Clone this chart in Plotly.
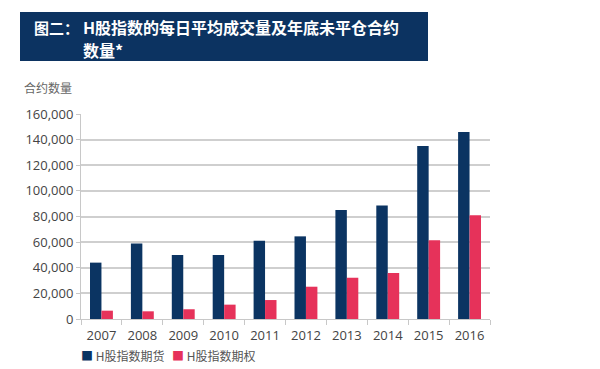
import plotly.graph_objects as go

years = ["2007", "2008", "2009", "2010", "2011", "2012", "2013", "2014", "2015", "2016"]
futures = [44000, 59000, 50000, 50000, 61000, 64500, 85000, 88500, 135000, 146000]
options = [6500, 6000, 7600, 11200, 14800, 25200, 32200, 35900, 61500, 81000]
series_names = ["H股指数期货", "H股指数期权"]
yticks = [0, 20000, 40000, 60000, 80000, 100000, 120000, 140000, 160000]

NAVY = "#0b3462"
PINK = "#e6325a"
FONT = "Open Sans, Noto Sans CJK SC, sans-serif"
CJK = "Noto Sans CJK SC, sans-serif"

fig = go.Figure()
fig.add_bar(x=years, y=futures, name=series_names[0], marker_color=NAVY, marker_line_width=0)
fig.add_bar(x=years, y=options, name=series_names[1], marker_color=PINK, marker_line_width=0)

# page body has an 8px margin, so the figure is 8px smaller and shifted
fig.update_layout(
    width=592, height=361,
    margin=dict(l=73, r=110, t=106, b=50, autoexpand=False),
    paper_bgcolor="white", plot_bgcolor="white",
    barmode="group", bargap=0.44, bargroupgap=0,
    font=dict(family=FONT, size=13, color="#444"),
    showlegend=False,
    xaxis=dict(showgrid=False, showline=True, linecolor="#c8c8c8", linewidth=1,
               ticks="outside", tickson="boundaries", ticklen=5, tickcolor="#c8c8c8",
               ticklabelstandoff=4,
               tickfont=dict(size=13, color="#444")),
    yaxis=dict(range=[0, 160000], tickvals=yticks, tickformat=",d",
               showgrid=True, gridcolor="#cfcfcf", gridwidth=1.5,
               showline=True, linecolor="#c8c8c8", linewidth=1,
               ticks="outside", ticklen=4, tickcolor="#c8c8c8",
               zeroline=False, tickfont=dict(size=13, color="#444")),
)

def px_x(x):
    return (x - 81) / 409.0

def px_y(y):
    return (319 - y) / 205.0

# title box
fig.add_shape(type="rect", xref="paper", yref="paper",
              x0=px_x(20), x1=px_x(428), y0=px_y(61), y1=px_y(12),
              fillcolor="#0c3361", line_width=0, layer="above")
fig.add_annotation(xref="paper", yref="paper", x=px_x(32), y=px_y(27), xanchor="left", yanchor="middle",
                   text="<b>图二：</b>", showarrow=False,
                   font=dict(family=CJK, size=15, color="white"))
fig.add_annotation(xref="paper", yref="paper", x=px_x(81), y=px_y(27), xanchor="left", yanchor="middle",
                   text="<b>H股指数的每日平均成交量及年底未平仓合约</b>", showarrow=False,
                   font=dict(family=CJK, size=16, color="white"))
fig.add_annotation(xref="paper", yref="paper", x=px_x(81), y=px_y(50), xanchor="left", yanchor="middle",
                   text="<b>数量*</b>", showarrow=False,
                   font=dict(family=CJK, size=16, color="white"))
# y axis title
fig.add_annotation(xref="paper", yref="paper", x=px_x(22), y=px_y(87), xanchor="left", yanchor="middle",
                   text="合约数量", showarrow=False,
                   font=dict(family=CJK, size=12, color="#666"))
# legend
fig.add_annotation(xref="paper", yref="paper", x=px_x(79), y=px_y(355), xanchor="left", yanchor="middle",
                   text="<span style='color:%s'>■</span> %s" % (NAVY, series_names[0]), showarrow=False,
                   font=dict(family=CJK, size=12, color="#555"))
fig.add_annotation(xref="paper", yref="paper", x=px_x(170), y=px_y(355), xanchor="left", yanchor="middle",
                   text="<span style='color:%s'>■</span> %s" % (PINK, series_names[1]), showarrow=False,
                   font=dict(family=CJK, size=12, color="#555"))

fig.write_html("out.html")
